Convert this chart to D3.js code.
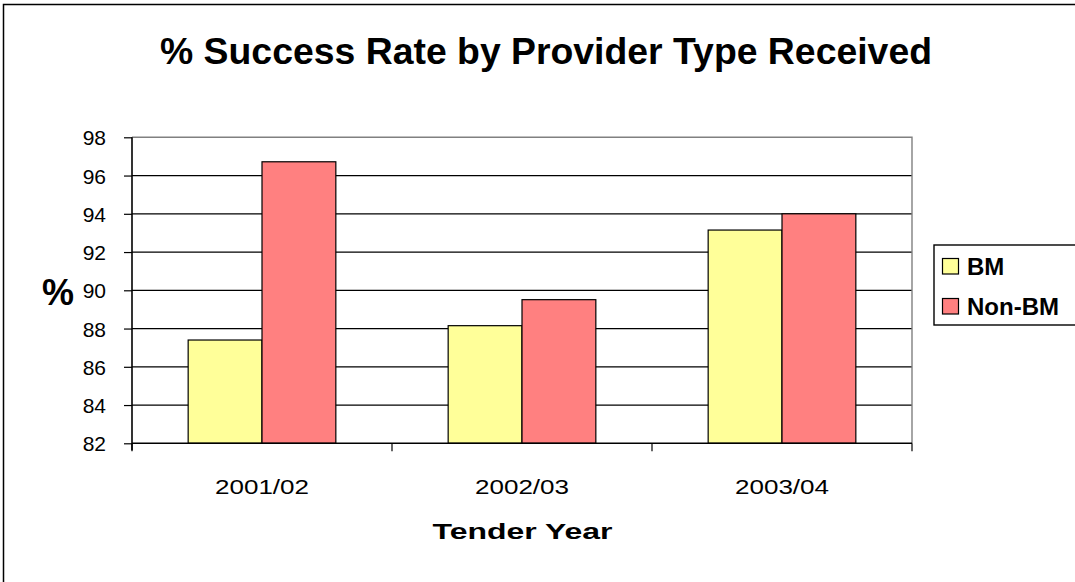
<!DOCTYPE html>
<html><head><meta charset="utf-8">
<script src="https://cdn.jsdelivr.net/npm/d3@7"></script>
<style>body{margin:0;background:#fff;}svg{display:block;font-family:"Liberation Sans",Arial,sans-serif;}</style>
</head><body>
<svg id="c" width="1075" height="582"></svg>
<script>
const categories = ["2001/02","2002/03","2003/04"];
const seriesNames = ["BM","Non-BM"];
const bmValues = [87.4, 88.15, 93.15];
const nonBmValues = [96.72, 89.51, 94.0];
const yTicks = [82,84,86,88,90,92,94,96,98];
const colors = ["#FFFF99","#FF8080"];
const FONT = "Liberation Sans, Arial, sans-serif";

const svg = d3.select("#c");
// outer frame
svg.append("rect").attr("x",3.5).attr("y",4.5).attr("width",1085).attr("height",590)
  .attr("fill","none").attr("stroke","#000").attr("stroke-width",1.5);

const L=132, R=912, T=137.3, B=443.3;
const y = d3.scaleLinear().domain([82,98]).range([B,T]);
const x0 = d3.scaleBand().domain(categories).range([L,R]).paddingInner(0.432).paddingOuter(0.216);
const x1 = d3.scaleBand().domain(seriesNames).range([0,x0.bandwidth()]);

// gridlines
svg.append("g").selectAll("line").data(yTicks.slice(1,-1)).join("line")
  .attr("x1",L).attr("x2",R).attr("y1",d=>y(d)).attr("y2",d=>y(d))
  .attr("stroke","#000").attr("stroke-width",1.2);
// plot border top/right gray
svg.append("path").attr("d",`M${L},${T}H${R}V${B}`).attr("fill","none").attr("stroke","#808080").attr("stroke-width",1.4);

const data = categories.map((c,i)=>({c, vals:[bmValues[i], nonBmValues[i]]}));
svg.append("g").selectAll("g").data(data).join("g")
  .attr("transform",d=>`translate(${x0(d.c)},0)`)
  .selectAll("rect").data(d=>d.vals.map((v,j)=>({v,s:seriesNames[j],j}))).join("rect")
  .attr("x",d=>x1(d.s)).attr("width",x1.bandwidth())
  .attr("y",d=>y(d.v)).attr("height",d=>B-y(d.v))
  .attr("fill",d=>colors[d.j]).attr("stroke","#000").attr("stroke-width",1.2);

// y axis
const ya = svg.append("g").attr("transform",`translate(${L},0)`)
  .call(d3.axisLeft(y).tickValues(yTicks).tickSize(8).tickPadding(18).tickFormat(d3.format("d")));
ya.select(".domain").attr("stroke","#000").attr("stroke-width",1.6).attr("d",`M0,${T}V${B+7}`);
ya.selectAll(".tick line").attr("stroke","#000").attr("stroke-width",1.2);
ya.selectAll("text").attr("font-size",21).attr("fill","#000").attr("font-family",FONT).attr("dy","0.36em");

// x axis
const xa = svg.append("g").attr("transform",`translate(0,${B})`)
  .call(d3.axisBottom(x0).tickSize(0).tickPadding(0));
xa.select(".domain").attr("stroke","#000").attr("stroke-width",1.6).attr("d",`M${L},0H${R}`);
xa.selectAll("text").attr("font-size",20).attr("fill","#000").attr("font-family",FONT)
  .attr("dy",0).attr("y",51).attr("textLength",94).attr("lengthAdjust","spacingAndGlyphs");
const step = (R-L)/categories.length;
svg.append("g").selectAll("line").data(d3.range(categories.length+1)).join("line")
  .attr("x1",i=>L+i*step).attr("x2",i=>L+i*step).attr("y1",B).attr("y2",B+8)
  .attr("stroke","#000").attr("stroke-width",1.2);

// titles
svg.append("text").attr("x",546).attr("y",64).attr("text-anchor","middle")
  .attr("font-size",37).attr("font-weight","bold").attr("textLength",772).attr("lengthAdjust","spacingAndGlyphs")
  .text("% Success Rate by Provider Type Received");
svg.append("text").attr("x",58).attr("y",305).attr("text-anchor","middle")
  .attr("font-size",36).attr("font-weight","bold").text("%");
svg.append("text").attr("x",522.5).attr("y",538.5).attr("text-anchor","middle")
  .attr("font-size",22).attr("font-weight","bold").attr("textLength",180).attr("lengthAdjust","spacingAndGlyphs")
  .text("Tender Year");

// legend
const lg = svg.append("g");
lg.append("rect").attr("x",934).attr("y",245).attr("width",150).attr("height",80)
  .attr("fill","#fff").attr("stroke","#000").attr("stroke-width",1.4);
seriesNames.forEach((s,i)=>{
  const yy = 258.5 + i*40;
  lg.append("rect").attr("x",942.5).attr("y",yy).attr("width",16).attr("height",15.5)
    .attr("fill",colors[i]).attr("stroke","#000").attr("stroke-width",1.2);
  lg.append("text").attr("x",967).attr("y",yy+16.5).attr("font-size",24).attr("font-weight","bold").text(s);
});
</script>
</body></html>
